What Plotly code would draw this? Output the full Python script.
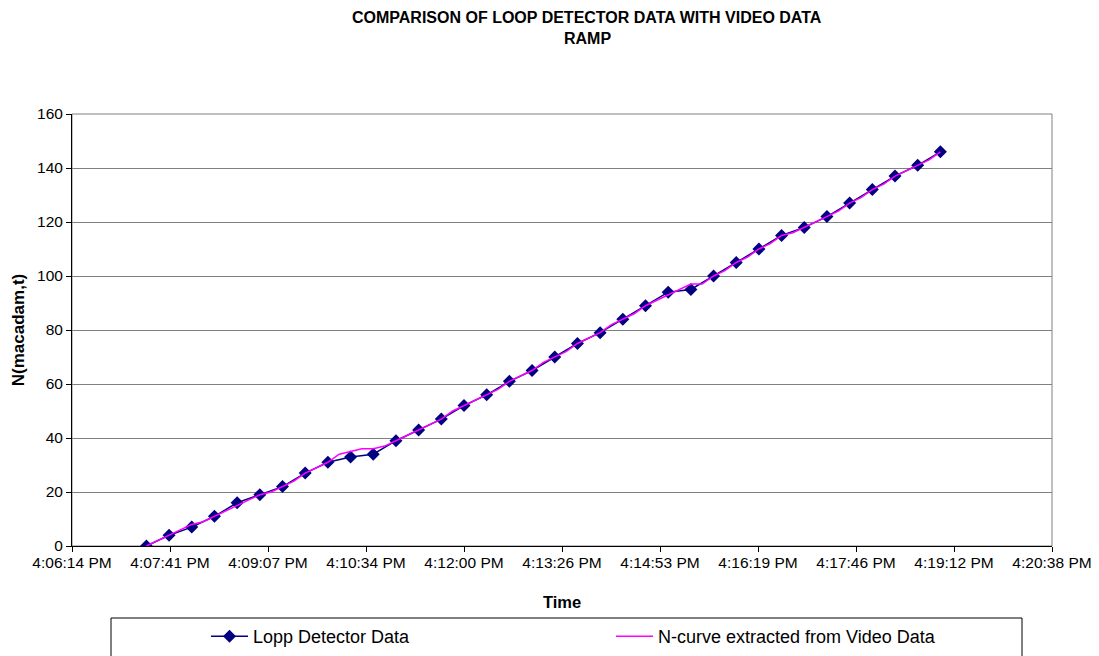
import plotly.graph_objects as go
import pandas as pd

# ---------------- data ----------------
DAY = "2000-01-01"
loop_start = "16:07:20"      # first loop-detector reading
loop_step = "20s"            # loop detector sampling interval
loop_counts = [0, 4, 7, 11, 16, 19, 22, 27, 31, 33, 34, 39, 43, 47, 52, 56, 61, 65,
               70, 75, 79, 84, 89, 94, 95, 100, 105, 110, 115, 118, 122, 127, 132,
               137, 141, 146]

video_start = "16:07:20"     # first point of the video N-curve
video_step = "10s"
video_counts = [0, 2, 4, 6, 8, 9, 11, 13, 15, 17, 19, 20, 22, 24, 27, 29, 31, 34,
                35, 36, 36, 37, 39, 41, 43, 45, 47, 50, 52, 54, 56, 58, 61, 63, 65,
                68, 70, 72, 75, 77, 79, 82, 84, 86, 89, 91, 93, 95, 97, 97, 100, 102,
                105, 107, 110, 112, 115, 116, 118, 120, 122, 124, 127, 129, 132, 134,
                137, 139, 141, 143, 146]

x_axis_min = "16:06:14.400"
x_axis_max = "16:20:38.400"
x_major_unit = "86400ms"
x_tick_labels = ["4:06:14 PM", "4:07:41 PM", "4:09:07 PM", "4:10:34 PM", "4:12:00 PM",
                 "4:13:26 PM", "4:14:53 PM", "4:16:19 PM", "4:17:46 PM", "4:19:12 PM",
                 "4:20:38 PM"]

y_range = [0, 160]
y_step = 20

title_lines = ["COMPARISON OF LOOP DETECTOR DATA WITH VIDEO DATA", "RAMP"]
x_title = "Time"
y_title = "N(macadam,t)"
series_names = ["Lopp Detector Data", "N-curve extracted from Video Data"]

# ---------------- derived ----------------
loop_times = pd.date_range(f"{DAY} {loop_start}", periods=len(loop_counts), freq=loop_step)
video_times = pd.date_range(f"{DAY} {video_start}", periods=len(video_counts), freq=video_step)
tick_times = pd.date_range(f"{DAY} {x_axis_min}", periods=len(x_tick_labels), freq=x_major_unit)
fmt = "%Y-%m-%d %H:%M:%S.%f"
tick_vals = [t.strftime(fmt)[:-3] for t in tick_times]
x_rng = [f"{DAY} {x_axis_min}", f"{DAY} {x_axis_max}"]

FONT = "Liberation Sans, Arial, sans-serif"
W, H = 1099, 656
L, R, T, B = 72, 1052, 114, 546   # plot area in pixels


def px_x(x):
    return (x - L) / (R - L)


def px_y(y):
    return (B - y) / (B - T)


fig = go.Figure()
fig.add_trace(go.Scatter(
    x=loop_times.strftime(fmt).tolist(), y=loop_counts, name=series_names[0],
    mode="lines+markers",
    line=dict(color="#000080", width=1.5),
    marker=dict(symbol="diamond", size=10, color="#000080"),
))
fig.add_trace(go.Scatter(
    x=video_times.strftime(fmt).tolist(), y=video_counts, name=series_names[1],
    mode="lines",
    line=dict(color="#FF00FF", width=1.5),
))

fig.update_layout(
    width=W, height=H,
    margin=dict(l=L, r=W - R, t=T, b=H - B, pad=0, autoexpand=False),
    paper_bgcolor="white", plot_bgcolor="white",
    font=dict(family=FONT, size=15, color="black"),
    showlegend=True,
    legend=dict(orientation="h", x=px_x(206), y=px_y(618), xanchor="left", yanchor="top",
                entrywidth=353, entrywidthmode="pixels", itemwidth=37,
                bgcolor="rgba(0,0,0,0)", borderwidth=0,
                font=dict(size=18, family=FONT)),
    xaxis=dict(
        type="date", range=x_rng, tickmode="array", tickvals=tick_vals,
        ticktext=x_tick_labels, showgrid=False, zeroline=False,
        showline=True, linecolor="black", linewidth=1,
        ticks="outside", ticklen=5, tickcolor="black", ticklabelstandoff=-3,
        tickfont=dict(size=15.5, family=FONT),
        title=dict(text=f"<b>{x_title}</b>", font=dict(size=16.5, family=FONT), standoff=26),
    ),
    yaxis=dict(
        range=y_range, dtick=y_step, tick0=0, showgrid=True, gridcolor="#808080",
        gridwidth=1, zeroline=False, showline=True, linecolor="black", linewidth=1,
        ticks="outside", ticklen=5, tickcolor="black",
        tickfont=dict(size=15.5, family=FONT),
        title=dict(text=f"<b>{y_title}</b>", font=dict(size=17, family=FONT), standoff=8),
    ),
    shapes=[
        dict(type="rect", xref="paper", yref="paper", x0=0, x1=1, y0=0, y1=1,
             line=dict(color="#808080", width=1), layer="below"),
        dict(type="rect", xref="paper", yref="paper", x0=px_x(111), x1=px_x(1022),
             y0=px_y(618), y1=px_y(664), line=dict(color="black", width=1)),
    ],
    annotations=[
        dict(text=f"<b>{title_lines[0]}</b>", xref="paper", yref="paper",
             x=px_x(587), y=px_y(18), xanchor="center", yanchor="middle",
             showarrow=False, font=dict(size=16, family=FONT)),
        dict(text=f"<b>{title_lines[1]}</b>", xref="paper", yref="paper",
             x=px_x(587), y=px_y(38), xanchor="center", yanchor="middle",
             showarrow=False, font=dict(size=16, family=FONT)),
    ],
)

fig.write_html("out.html")
